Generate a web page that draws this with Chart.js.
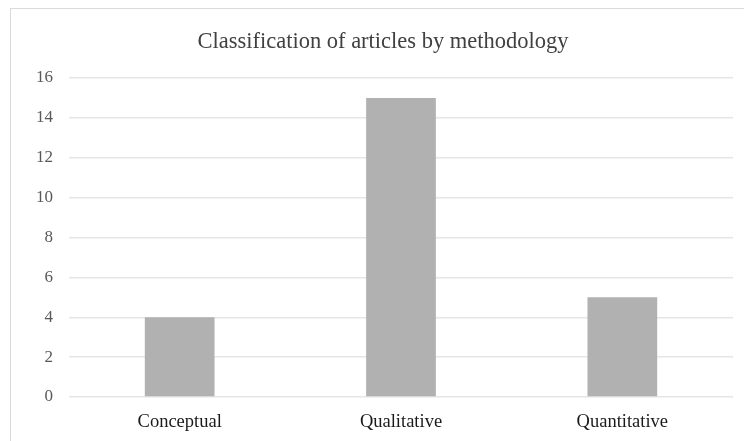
<!DOCTYPE html>
<html>
<head>
<meta charset="utf-8">
<script src="https://cdn.jsdelivr.net/npm/chart.js@4/dist/chart.umd.min.js"></script>
<style>
  html, body { margin: 0; padding: 0; background: #ffffff; overflow: hidden; }
  #wrap { position: relative; width: 766px; height: 441px; }
</style>
</head>
<body>
<div id="wrap"><canvas id="chart" width="766" height="441"></canvas></div>
<script>
// Article counts per research methodology
const categories = ["Conceptual", "Qualitative", "Quantitative"];
const articleCounts = [4, 15, 5];
const yTicks = [0, 2, 4, 6, 8, 10, 12, 14, 16];

const SERIF = "'Liberation Serif', 'Times New Roman', serif";

// Light frame around the chart panel
const framePlugin = {
  id: 'frame',
  beforeDraw(chart) {
    const ctx = chart.ctx;
    ctx.save();
    ctx.fillStyle = '#ffffff';
    ctx.fillRect(0, 0, chart.width, chart.height);
    ctx.strokeStyle = '#dadada';
    ctx.lineWidth = 1;
    ctx.strokeRect(10.5, 8.5, chart.width - 21, 1000);
    ctx.restore();
  }
};

new Chart(document.getElementById('chart'), {
  type: 'bar',
  data: {
    labels: categories,
    datasets: [{
      data: articleCounts,
      backgroundColor: '#b1b1b1',
      borderWidth: 0,
      barPercentage: 0.315,
      categoryPercentage: 1
    }]
  },
  options: {
    responsive: false,
    animation: false,
    layout: { padding: 0 },
    plugins: {
      legend: { display: false },
      tooltip: { enabled: false },
      title: {
        display: true,
        text: 'Classification of articles by methodology',
        color: '#404040',
        font: { family: SERIF, size: 22.5, weight: 'normal' },
        padding: { top: 29, bottom: 22 }
      }
    },
    scales: {
      x: {
        grid: { display: false, drawTicks: false },
        border: { display: false },
        ticks: {
          color: '#1a1a1a',
          font: { family: SERIF, size: 18.5 },
          padding: 14
        },
        afterFit(scale) { scale.height = 44; }
      },
      y: {
        min: 0,
        max: 16,
        afterBuildTicks(scale) {
          scale.ticks = yTicks.map(v => ({ value: v }));
        },
        grid: { color: '#e6e6e6', lineWidth: 1.5, drawTicks: false },
        border: { display: false },
        ticks: {
          color: '#595959',
          font: { family: SERIF, size: 17 },
          padding: 16
        },
        afterFit(scale) { scale.width = 69; }
      },
      // empty right-hand margin of the panel
      yRight: {
        position: 'right',
        min: 0,
        max: 16,
        grid: { display: false, drawTicks: false },
        border: { display: false },
        ticks: { display: false },
        afterFit(scale) { scale.width = 33; }
      }
    }
  },
  plugins: [framePlugin]
});
</script>
</body>
</html>
